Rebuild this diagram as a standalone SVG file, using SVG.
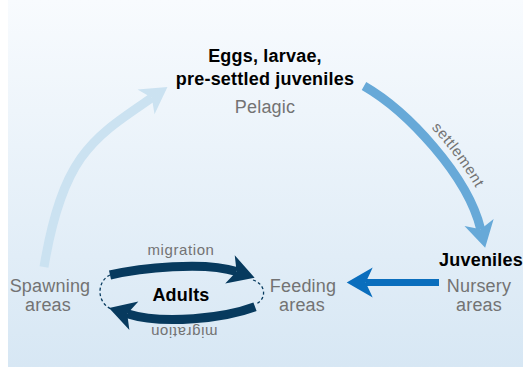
<svg xmlns="http://www.w3.org/2000/svg" width="530" height="369" viewBox="0 0 530 369">
  <defs>
    <linearGradient id="bg" x1="0" y1="0" x2="0" y2="1">
      <stop offset="0" stop-color="#f8fbfe"/>
      <stop offset="1" stop-color="#d7e7f4"/>
    </linearGradient>
    <marker id="ahLight" markerUnits="userSpaceOnUse" markerWidth="26" markerHeight="30" refX="7" refY="15" orient="auto" overflow="visible">
      <path d="M0,0 L26,15 L0,30 L7,15 z" fill="#cbe2f1"/>
    </marker>
    <marker id="ahMid" markerUnits="userSpaceOnUse" markerWidth="26" markerHeight="30" refX="7" refY="15" orient="auto" overflow="visible">
      <path d="M0,0 L26,15 L0,30 L7,15 z" fill="#67a9d8"/>
    </marker>
    <marker id="ahBlue" markerUnits="userSpaceOnUse" markerWidth="26" markerHeight="30" refX="7" refY="15" orient="auto" overflow="visible">
      <path d="M0,0 L26,15 L0,30 L7,15 z" fill="#0a6ebd"/>
    </marker>
    <marker id="ahDark" markerUnits="userSpaceOnUse" markerWidth="26" markerHeight="30" refX="7" refY="15" orient="auto" overflow="visible">
      <path d="M0,0 L26,15 L0,30 L7,15 z" fill="#073a5e"/>
    </marker>
    <path id="settlePath" d="M369.5,76.5 C413.9,102.2 477.7,170.7 491.7,226.4"/>
    <style>
      .lbl { font-family: "Liberation Sans", Arial, sans-serif; font-size: 18px; letter-spacing: 0.2px; text-anchor: middle; }
      .bold { font-weight: bold; fill: #000; }
      .grey { fill: #737373; }
      .small { font-family: "Liberation Sans", Arial, sans-serif; font-size: 15px; letter-spacing: 0.6px; fill: #737373; text-anchor: middle; }
      .arc { fill: none; }
      .dash { fill: none; stroke: #073a5e; stroke-width: 1.3; stroke-dasharray: 3 2.5; }
    </style>
  </defs>

  <rect x="8" y="0" width="515" height="367" fill="url(#bg)"/>

  <g id="connectors">
    <path class="arc" d="M44,267 C62.9,153.6 94.2,137.4 151.8,97.8" stroke="#cbe2f1" stroke-width="9" marker-end="url(#ahLight)"/>
    <path class="arc" d="M364,86 C407.3,111 467.8,175.65 480.7,229.2" stroke="#67a9d8" stroke-width="9" marker-end="url(#ahMid)"/>
    <path class="arc" d="M439,282.5 L365.7,282.5" stroke="#0a6ebd" stroke-width="7" marker-end="url(#ahBlue)"/>
    <path class="arc" d="M110,275 C140,268 205,261 236.6,271.6" stroke="#073a5e" stroke-width="9" marker-end="url(#ahDark)"/>
    <path class="arc" d="M255,306.7 C225,318 163.5,325.1 127.2,313.7" stroke="#073a5e" stroke-width="9" marker-end="url(#ahDark)"/>
    <text class="small"><textPath href="#settlePath" startOffset="60%">settlement</textPath></text>
    <text class="small" x="181" y="255">migration</text>
    <text class="small" transform="translate(184,326.5) rotate(180)">migration</text>
  </g>

  <g id="eggs">
    <text class="lbl bold" x="265" y="62">Eggs, larvae,</text>
    <text class="lbl bold" x="265" y="85">pre-settled juveniles</text>
    <text class="lbl grey" x="265" y="113">Pelagic</text>
  </g>

  <g id="juveniles">
    <text class="lbl bold" x="481" y="266">Juveniles</text>
    <text class="lbl grey" x="479" y="291.5">Nursery</text>
    <text class="lbl grey" x="479" y="311">areas</text>
  </g>

  <g id="feeding">
    <text class="lbl grey" x="303" y="291.5">Feeding</text>
    <text class="lbl grey" x="302" y="311">areas</text>
  </g>

  <g id="spawning">
    <text class="lbl grey" x="50" y="291.5">Spawning</text>
    <text class="lbl grey" x="48" y="311">areas</text>
  </g>

  <g id="adults">
    <path class="dash" d="M110,275 C97,281 96,302 111,309"/>
    <path class="dash" d="M253,280 C266,284 267,299 256,304"/>
    <text class="lbl bold" x="181" y="301">Adults</text>
  </g>
</svg>
